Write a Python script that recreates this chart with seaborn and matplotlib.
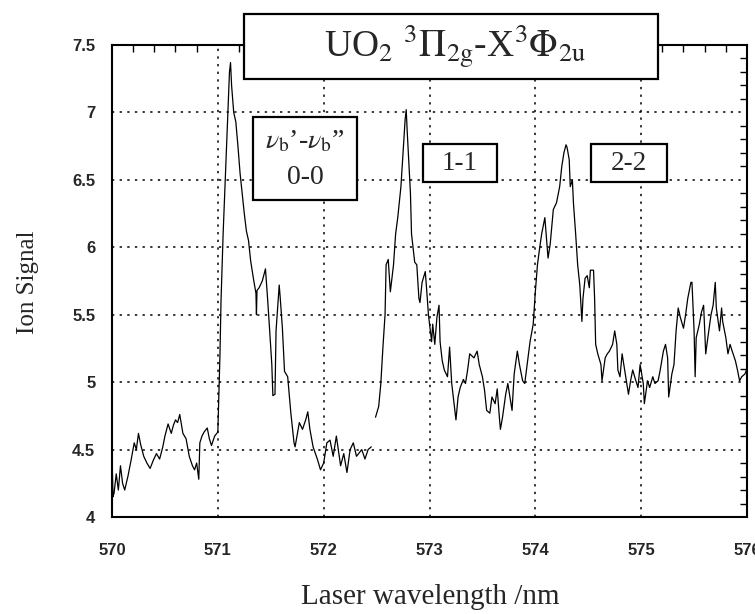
import numpy as np
import pandas as pd
import matplotlib
matplotlib.use("Agg")
import matplotlib.pyplot as plt
import seaborn as sns
from matplotlib.patches import Rectangle
from matplotlib.ticker import MultipleLocator, FixedLocator

# ---------------- data ----------------
wl_seg1 = [570.00, 570.01, 570.02, 570.04, 570.06, 570.08, 570.10, 570.12, 570.15, 570.18,
           570.21, 570.23, 570.25, 570.27, 570.30, 570.33, 570.36, 570.39, 570.42, 570.45,
           570.48, 570.50, 570.53, 570.56, 570.58, 570.60, 570.62, 570.64, 570.67, 570.70,
           570.73, 570.76, 570.78, 570.80, 570.82, 570.83, 570.85, 570.87, 570.90, 570.92,
           570.94, 570.97, 571.00, 571.02, 571.03, 571.05, 571.07, 571.09, 571.11, 571.12,
           571.13, 571.15, 571.17, 571.19, 571.21, 571.23, 571.25, 571.27, 571.29, 571.31,
           571.34, 571.36, 571.365, 571.37, 571.39, 571.42, 571.45, 571.47, 571.49, 571.51,
           571.52, 571.54, 571.55, 571.58, 571.59, 571.61, 571.63, 571.66, 571.69, 571.72,
           571.73, 571.77, 571.80, 571.83, 571.85, 571.87, 571.90, 571.94, 571.97, 572.00,
           572.03, 572.06, 572.09, 572.12, 572.16, 572.19, 572.22, 572.25, 572.28, 572.31,
           572.36, 572.39, 572.42, 572.45]
sig_seg1 = [4.45, 4.15, 4.18, 4.32, 4.20, 4.38, 4.25, 4.20, 4.30, 4.42,
            4.55, 4.50, 4.62, 4.54, 4.45, 4.40, 4.36, 4.42, 4.47, 4.43,
            4.52, 4.60, 4.69, 4.62, 4.68, 4.72, 4.70, 4.76, 4.62, 4.58,
            4.45, 4.38, 4.35, 4.40, 4.28, 4.55, 4.60, 4.63, 4.66, 4.58,
            4.53, 4.60, 4.63, 5.20, 5.60, 6.10, 6.50, 6.90, 7.30, 7.37,
            7.20, 7.00, 6.93, 6.75, 6.55, 6.40, 6.25, 6.12, 6.05, 5.90,
            5.75, 5.66, 5.50, 5.68, 5.70, 5.75, 5.84, 5.62, 5.38, 5.13,
            4.90, 4.91, 5.38, 5.72, 5.62, 5.40, 5.08, 5.04, 4.77, 4.55,
            4.52, 4.70, 4.65, 4.72, 4.78, 4.65, 4.52, 4.43, 4.35, 4.40,
            4.55, 4.57, 4.45, 4.60, 4.38, 4.47, 4.33, 4.50, 4.55, 4.45,
            4.50, 4.43, 4.50, 4.52]

wl_seg2 = [572.49, 572.52, 572.54, 572.56, 572.58, 572.59, 572.61, 572.63, 572.66, 572.68,
           572.70, 572.73, 572.75, 572.77, 572.78, 572.79, 572.80, 572.82, 572.83, 572.86,
           572.88, 572.90, 572.91, 572.93, 572.96, 572.97, 572.99, 573.02, 573.03, 573.05,
           573.07, 573.09, 573.10, 573.12, 573.14, 573.17, 573.19, 573.21, 573.25, 573.27,
           573.29, 573.32, 573.34, 573.36, 573.38, 573.42, 573.45, 573.47, 573.50, 573.52,
           573.54, 573.57, 573.59, 573.62, 573.64, 573.66, 573.67, 573.69, 573.72, 573.74,
           573.76, 573.78, 573.80, 573.83, 573.85, 573.88, 573.90, 573.93, 573.95, 573.98,
           574.00, 574.02, 574.04, 574.06, 574.09, 574.12, 574.14, 574.17, 574.20, 574.23,
           574.25, 574.27, 574.29, 574.30, 574.32, 574.33, 574.35, 574.36, 574.38, 574.40,
           574.42, 574.44, 574.45, 574.47, 574.49, 574.51, 574.52, 574.55, 574.56, 574.57,
           574.59, 574.62, 574.63, 574.66, 574.68, 574.70, 574.73, 574.75, 574.77, 574.78,
           574.80, 574.82, 574.85, 574.88, 574.90, 574.92, 574.95, 574.97, 574.99, 575.02,
           575.03, 575.06, 575.08, 575.11, 575.13, 575.16, 575.18, 575.21, 575.23, 575.25,
           575.26, 575.29, 575.31, 575.33, 575.35, 575.37, 575.40, 575.42, 575.44, 575.47,
           575.48, 575.50, 575.51, 575.52, 575.55, 575.57, 575.59, 575.61, 575.63, 575.66,
           575.68, 575.70, 575.71, 575.74, 575.76, 575.77, 575.80, 575.82, 575.84, 575.86,
           575.89, 575.91, 575.93, 575.95, 575.98, 576.00]
sig_seg2 = [4.74, 4.82, 4.99, 5.26, 5.50, 5.87, 5.91, 5.67, 5.87, 6.10,
            6.22, 6.45, 6.70, 6.95, 7.02, 6.85, 6.70, 6.40, 6.10, 5.89,
            5.87, 5.62, 5.59, 5.74, 5.82, 5.72, 5.50, 5.30, 5.43, 5.28,
            5.48, 5.57, 5.30, 5.16, 5.09, 5.04, 5.26, 4.99, 4.72, 4.89,
            4.96, 5.02, 4.99, 5.09, 5.21, 5.18, 5.23, 5.13, 5.04, 4.94,
            4.79, 4.77, 4.89, 4.84, 4.95, 4.74, 4.65, 4.74, 4.91, 4.99,
            4.89, 4.79, 5.06, 5.23, 5.13, 5.01, 4.99, 5.18, 5.30, 5.43,
            5.67, 5.87, 5.99, 6.10, 6.22, 5.92, 6.02, 6.28, 6.33, 6.45,
            6.60, 6.70, 6.76, 6.74, 6.65, 6.45, 6.50, 6.33, 6.11, 5.87,
            5.72, 5.45, 5.62, 5.77, 5.79, 5.70, 5.83, 5.83, 5.62, 5.28,
            5.21, 5.13, 5.01, 5.18, 5.21, 5.23, 5.28, 5.38, 5.28, 5.09,
            5.04, 5.21, 5.06, 4.91, 5.01, 5.09, 5.01, 4.96, 5.13, 4.99,
            4.84, 5.01, 4.96, 5.04, 4.99, 5.01, 5.09, 5.23, 5.28, 5.18,
            4.89, 5.06, 5.13, 5.38, 5.55, 5.48, 5.40, 5.50, 5.62, 5.74,
            5.74, 5.38, 5.04, 5.33, 5.43, 5.52, 5.57, 5.21, 5.33, 5.50,
            5.57, 5.74, 5.55, 5.38, 5.55, 5.45, 5.33, 5.21, 5.28, 5.23,
            5.16, 5.09, 5.01, 5.04, 5.06, 5.10]

x_ticks = [570, 571, 572, 573, 574, 575, 576]
x_tick_labels = ["570", "571", "572", "573", "574", "575", "576"]
y_ticks = [4, 4.5, 5, 5.5, 6, 6.5, 7, 7.5]
y_tick_labels = ["4", "4.5", "5", "5.5", "6", "6.5", "7", "7.5"]

title_text = r"UO$_2$ $^3\Pi_{\mathrm{2g}}$-X$^3\Phi_{\mathrm{2u}}$"
band_label_00a = "$\\nu_{\\mathrm{b}}$\u2019-$\\nu_{\\mathrm{b}}$\u201d"
band_label_00b = "0-0"
band_label_11 = "1-1"
band_label_22 = "2-2"
x_label = "Laser wavelength /nm"
y_label = "Ion Signal"

# ---------------- style ----------------
sns.set_style("white")
plt.rcParams["font.family"] = ["Liberation Serif", "DejaVu Serif"]
plt.rcParams["mathtext.fontset"] = "stix"

W, H = 755, 614
fig = plt.figure(figsize=(W / 100, H / 100), dpi=100)
ax = fig.add_axes([112 / W, 1 - 517 / H, (747 - 112) / W, (517 - 45) / H])

df1 = pd.DataFrame({"wl": wl_seg1, "sig": sig_seg1})
df2 = pd.DataFrame({"wl": wl_seg2, "sig": sig_seg2})
for d in (df1, df2):
    sns.lineplot(data=d, x="wl", y="sig", ax=ax, color="black", lw=0.9,
                 estimator=None, sort=False, zorder=3)

ax.set_xlim(570, 576)
ax.set_ylim(4, 7.5)
ax.xaxis.set_major_locator(FixedLocator(x_ticks))
ax.yaxis.set_major_locator(FixedLocator(y_ticks))
ax.set_xticklabels(x_tick_labels)
ax.set_yticklabels(y_tick_labels)
ax.xaxis.set_minor_locator(MultipleLocator(0.2))
ax.yaxis.set_minor_locator(MultipleLocator(0.1))

ax.grid(True, which="major", color="black", linestyle=(0, (1.5, 3.5)), lw=1.1)
ax.tick_params(which="both", direction="in", top=True, right=True, color="black")
ax.tick_params(which="major", length=0)
ax.tick_params(which="minor", length=5, width=1)
ax.tick_params(axis="x", which="major", pad=19)
ax.tick_params(axis="y", which="major", pad=12)
for lab in ax.get_xticklabels() + ax.get_yticklabels():
    lab.set_fontfamily(["Liberation Sans", "DejaVu Sans"])
    lab.set_fontweight("bold")
    lab.set_fontsize(12)
for s in ax.spines.values():
    s.set_color("black")
    s.set_linewidth(1.5)

ax.set_xlabel("")
ax.set_ylabel("")
fig.text(430 / W, 1 - 597 / H, x_label, ha="center", va="center", fontsize=21)
fig.text(28 / W, 1 - 282 / H, y_label, ha="center", va="center", fontsize=18,
         rotation=90)


def px_box(x0, y0, x1, y1):
    return Rectangle((x0 / W, 1 - y1 / H), (x1 - x0) / W, (y1 - y0) / H,
                     transform=fig.transFigure, facecolor="white",
                     edgecolor="black", lw=1.6, zorder=10)


fig.patches.append(px_box(244, 14, 658, 79))
fig.text(455 / W, 1 - 47 / H, title_text, ha="center", va="center", fontsize=27,
         zorder=11)

fig.patches.append(px_box(253, 117, 357, 200))
fig.text(305 / W, 1 - 142 / H, band_label_00a, ha="center", va="center",
         fontsize=20, zorder=11)
fig.text(305 / W, 1 - 178 / H, band_label_00b, ha="center", va="center",
         fontsize=20, zorder=11)

fig.patches.append(px_box(423, 144, 497, 182))
fig.text(460 / W, 1 - 164 / H, band_label_11, ha="center", va="center",
         fontsize=19.5, zorder=11)

fig.patches.append(px_box(591, 144, 667, 182))
fig.text(629 / W, 1 - 164 / H, band_label_22, ha="center", va="center",
         fontsize=19.5, zorder=11)

fig.savefig("out.png", dpi=100)
